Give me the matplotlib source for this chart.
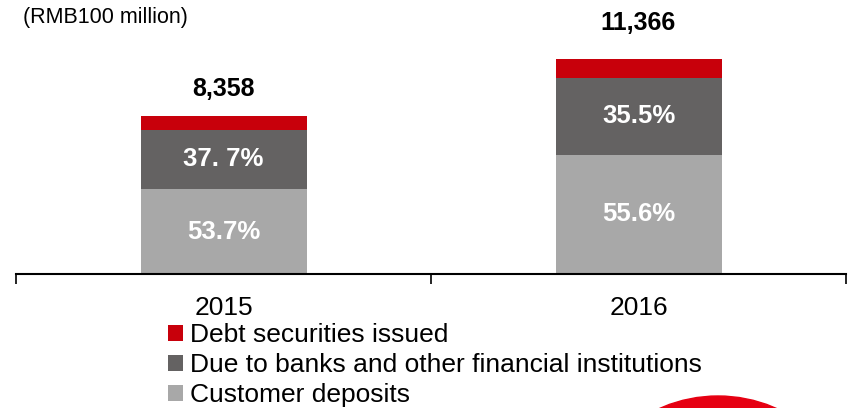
import matplotlib.pyplot as plt
import matplotlib.patches as mpatches
import numpy as np

years = ["2015", "2016"]
totals = [8358, 11366]
deposit_share = [53.7, 55.6]
bank_share = [37.7, 35.5]
deposit_labels = ["53.7%", "55.6%"]
bank_labels = ["37. 7%", "35.5%"]
total_labels = ["8,358", "11,366"]
series_names = ["Customer deposits",
                "Due to banks and other financial institutions",
                "Debt securities issued"]

RED = "#C8000B"
DARK = "#646262"
LIGHT = "#A8A8A8"

plt.rcParams["font.family"] = ["Liberation Sans", "DejaVu Sans"]

totals = np.array(totals, dtype=float)
deposits = totals * np.array(deposit_share) / 100
banks = totals * np.array(bank_share) / 100
debt = totals - deposits - banks

fig = plt.figure(figsize=(8.48, 4.08), dpi=100)
ax = fig.add_axes([16 / 848, 134 / 408, 830 / 848, 274 / 408])

x = np.arange(len(years))
w = 0.4
b1 = ax.bar(x, deposits, w, color=LIGHT, label=series_names[0])
b2 = ax.bar(x, banks, w, bottom=deposits, color=DARK, label=series_names[1])
b3 = ax.bar(x, debt, w, bottom=deposits + banks, color=RED, label=series_names[2])

for i in range(len(years)):
    ax.text(x[i], deposits[i] / 2, deposit_labels[i], ha="center", va="center",
            color="white", fontsize=18.5, fontweight="bold")
    ax.text(x[i], deposits[i] + banks[i] / 2, bank_labels[i], ha="center",
            va="center", color="white", fontsize=18.5, fontweight="bold")

# totals sit a bit higher over the taller bar (offsets in pixels)
total_offsets = [27, 36]
for i in range(len(years)):
    ax.annotate(total_labels[i], (x[i], totals[i]), xytext=(0, total_offsets[i] * 0.72),
                textcoords="offset points", ha="center", va="center",
                fontsize=18, fontweight="bold", color="black")

ax.set_xlim(-0.5, 1.5)
ax.set_ylim(0, 14494)
for s in ["top", "right", "left"]:
    ax.spines[s].set_visible(False)
ax.spines["bottom"].set_linewidth(1.5)
ax.set_yticks([])
ax.set_xticks([-0.5, 0.5, 1.5])
ax.set_xticklabels([])
ax.tick_params(axis="x", which="major", length=7, width=1.2, direction="out")
ax.set_xticks(x, minor=True)
ax.set_xticklabels(years, minor=True, fontsize=19)
ax.tick_params(axis="x", which="minor", length=0, pad=16)

fig.text(23 / 848, 1 - 17 / 408, "(RMB100 million)", fontsize=15.5,
         ha="left", va="center")

handles = [b3, b2, b1]
leg = fig.legend(handles, [h.get_label() for h in handles],
                 loc="upper left", bbox_to_anchor=(168 / 848, 1 - 323 / 408),
                 frameon=False, handlelength=0.57, handleheight=0.57,
                 handletextpad=0.25, labelspacing=0.23, borderaxespad=0,
                 borderpad=0, prop={"size": 19})

# red emblem peeking in at the lower edge
r = 144
emblem = mpatches.Ellipse((718 / 848, (408 - 396 - r) / 408), 2 * r / 848, 2 * r / 408,
                          transform=fig.transFigure, color="#E60012", clip_on=False)
fig.patches.append(emblem)

fig.savefig("out.png", dpi=100)
